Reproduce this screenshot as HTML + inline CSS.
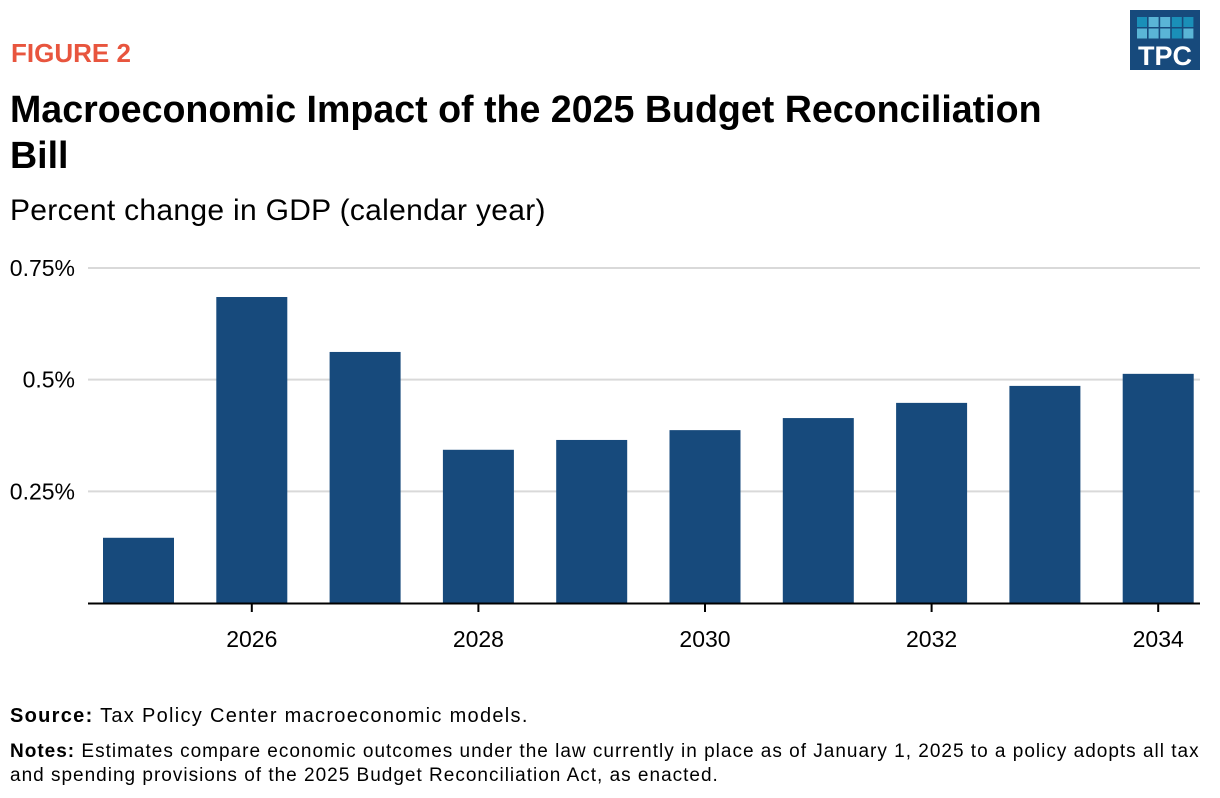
<!DOCTYPE html>
<html><head><meta charset="utf-8"><style>
body{margin:0;width:1220px;height:798px;background:#fff;font-family:"Liberation Sans",sans-serif;position:relative;overflow:hidden}
.t{position:absolute;white-space:nowrap}
</style></head><body>
<div class="t" style="left:11px;top:38px;font-size:26px;font-weight:bold;color:#e8553e">FIGURE 2</div>
<div class="t" style="left:10px;top:86px;font-size:37.6px;font-weight:bold;color:#000;line-height:46px">Macroeconomic Impact of the 2025 Budget Reconciliation<br>Bill</div>
<div class="t" style="left:10px;top:194px;font-size:30px;color:#000;letter-spacing:0.3px">Percent change in GDP (calendar year)</div>
<svg style="position:absolute;left:1130px;top:10px" width="70" height="60">
<rect width="70" height="60" fill="#174a7c"/>
<g id="sq"></g>
<text x="35" y="55" text-anchor="middle" font-family="Liberation Sans" font-weight="bold" font-size="27" fill="#fff">TPC</text>
</svg>
<svg id="chart" style="position:absolute;left:0;top:0" width="1220" height="700"></svg>
<div class="t" style="left:10px;top:705px;font-size:20px;letter-spacing:1.3px">
<b>Source:</b> Tax Policy Center macroeconomic models.</div>
<div class="t" style="left:10px;top:740px;font-size:19px;line-height:24px;letter-spacing:1px">
<b>Notes:</b> Estimates compare economic outcomes under the law currently in place as of January 1, 2025 to a policy adopts all tax<br>and spending provisions of the 2025 Budget Reconciliation Act, as enacted.</div>
<script>
const years=[2025,2026,2027,2028,2029,2030,2031,2032,2033,2034];
const values=[0.146,0.685,0.562,0.343,0.365,0.387,0.414,0.448,0.486,0.513];
const yTicks=[0.25,0.5,0.75];
const yTickLabels=["0.25%","0.5%","0.75%"];
const xTickYears=[2026,2028,2030,2032,2034];
const NS="http://www.w3.org/2000/svg";
const svg=document.getElementById('chart');
const y=v=>603-v*446.7;
const x=yr=>138.5+(yr-2025)*113.3;
function mk(t,a){const e=document.createElementNS(NS,t);for(const k in a)e.setAttribute(k,a[k]);svg.appendChild(e);return e;}
yTicks.forEach((v,i)=>{
 const l=mk('line',{x1:88,x2:1200,y1:y(v),y2:y(v),stroke:'#d9d9d9','stroke-width':2});
 
 
 const t=mk('text',{x:75,y:y(v)+8,'text-anchor':'end','font-size':23,'font-family':'Liberation Sans',fill:'#000'});
 t.textContent=yTickLabels[i];
 
 
});
years.forEach((yr,i)=>{
 const r=mk('rect',{x:x(yr)-35.5,y:y(values[i]),width:71,height:603-y(values[i]),fill:'#174a7c'});
 
 
});
const ax=mk('line',{x1:88,x2:1200,y1:603.5,y2:603.5,stroke:'#000','stroke-width':2});


xTickYears.forEach(yr=>{
 const tk=mk('line',{x1:x(yr),x2:x(yr),y1:604,y2:612,stroke:'#000','stroke-width':2});
 
 
 const t=mk('text',{x:x(yr),y:647,'text-anchor':'middle','font-size':23,'font-family':'Liberation Sans',fill:'#000'});
 t.textContent=yr;
 
 
});
const g=document.getElementById('sq');
const cols=[["#1a8fb8","#5ab5d6","#5ab5d6","#1a8fb8","#1a8fb8"],["#5ab5d6","#5ab5d6","#5ab5d6","#1a8fb8","#5ab5d6"]];
for(let r=0;r<2;r++)for(let c=0;c<5;c++){const e=document.createElementNS(NS,'rect');
e.setAttribute('x',7+c*11.6);e.setAttribute('y',7+r*11.5);e.setAttribute('width',10);e.setAttribute('height',10);e.setAttribute('fill',cols[r][c]);g.appendChild(e);}
</script>
</body></html>
